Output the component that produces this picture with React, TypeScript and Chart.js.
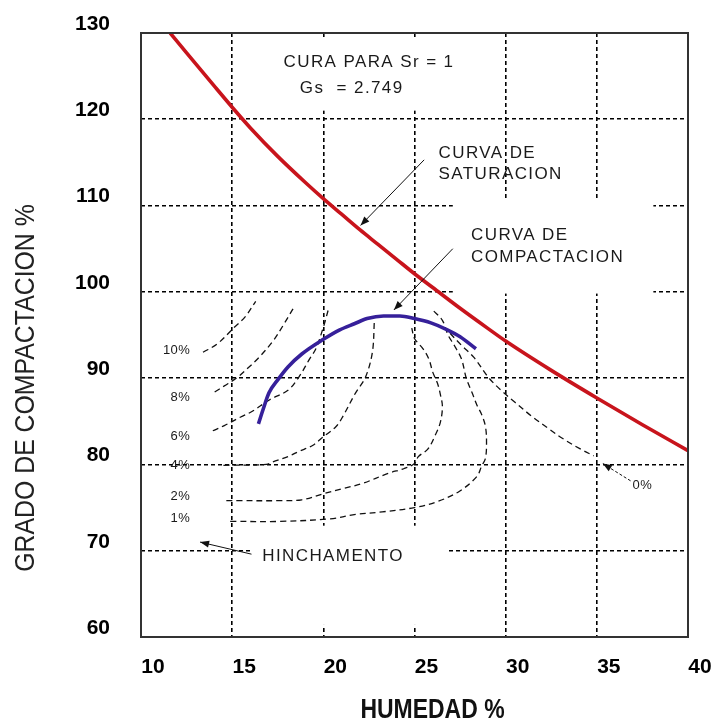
import { useEffect, useRef } from "react";
import { Chart, registerables } from "chart.js";

Chart.register(...registerables);

const FONT = '"Liberation Sans", Arial, Helvetica, sans-serif';

// Axis ticks
const humedadTicks = [10, 15, 20, 25, 30, 35, 40];
const gradoTicks = [60, 70, 80, 90, 100, 110, 120, 130];

// Curva de saturación (Sr = 1, Gs = 2.749)
const saturacionHumedad = [11.6, 12.5, 14.0, 15.0, 16.0, 17.5, 19.0, 20.0, 21.0, 22.0, 23.0, 24.0, 25.0, 26.0, 27.5, 29.0, 30.0, 32.5, 35.0, 37.5, 40.0];
const saturacionGrado = [130.0, 127.7, 123.9, 121.4, 119.0, 115.7, 112.7, 110.8, 109.0, 107.2, 105.5, 103.8, 102.1, 100.5, 98.1, 95.8, 94.3, 90.9, 87.7, 84.6, 81.6];

// Curva de compactación
const compactacionHumedad = [16.44, 16.7, 17.02, 17.5, 18.06, 18.82, 20.0, 20.9, 21.7, 22.4, 23.3, 24.2, 25.0, 25.9, 26.8, 27.5, 28.37];
const compactacionGrado = [84.7, 86.4, 88.3, 89.8, 91.3, 92.8, 94.5, 95.6, 96.3, 96.9, 97.2, 97.2, 96.9, 96.4, 95.6, 94.8, 93.4];

// Curvas de igual hinchamiento
const hinch10Humedad = [13.4, 14.2, 15.12, 15.71, 16.29];
const hinch10Grado = [93.0, 94.0, 95.9, 97.1, 98.9];

const hinch8Humedad = [14.04, 14.57, 15.29, 15.88, 16.47, 17.24, 17.82, 18.41];
const hinch8Grado = [88.4, 89.1, 90.1, 91.2, 92.4, 94.3, 96.2, 98.3];

const hinch6Humedad = [13.94, 14.57, 15.47, 16.06, 17.06, 18.06, 18.65, 19.24, 19.59, 20.0, 20.32];
const hinch6Grado = [83.9, 84.5, 85.5, 86.1, 87.5, 88.6, 90.1, 92.2, 93.4, 95.9, 98.3];

const hinch4Humedad = [14.52, 16.88, 17.24, 18.06, 18.65, 19.41, 20.0, 20.7, 21.08, 21.77, 22.31, 22.69, 22.8];
const hinch4Grado = [79.9, 80.0, 80.3, 80.9, 81.5, 82.2, 83.2, 84.4, 85.6, 88.3, 90.1, 93.0, 96.7];

const hinch2Humedad = [14.68, 15.29, 17.65, 18.82, 20.0, 21.08, 22.15, 23.6, 24.41, 25.0, 25.21, 25.74, 26.16, 26.42, 26.53, 26.42, 26.26, 26.0, 25.79, 25.47, 25.0, 24.85];
const hinch2Grado = [75.8, 75.8, 75.8, 75.9, 76.6, 77.2, 77.8, 79.0, 79.5, 80.1, 80.9, 81.8, 83.5, 84.9, 86.7, 88.1, 89.4, 90.7, 92.2, 93.4, 94.6, 95.8];

const hinch1Humedad = [14.89, 17.65, 20.38, 21.77, 23.23, 25.0, 26.26, 27.47, 28.42, 28.68, 28.89, 28.95, 28.89, 28.68, 28.42, 28.16, 27.84, 27.58, 27.21, 26.84, 26.53, 26.0];
const hinch1Grado = [73.4, 73.4, 73.7, 74.2, 74.5, 75.0, 75.7, 76.9, 78.6, 79.8, 80.7, 82.6, 84.4, 85.8, 86.9, 88.3, 90.0, 92.2, 93.7, 95.0, 96.7, 97.9];

const hinch0Humedad = [26.95, 27.58, 28.26, 29.05, 29.74, 30.51, 31.42, 32.39, 33.13, 34.09, 34.83];
const hinch0Grado = [95.2, 93.8, 92.4, 90.1, 88.6, 87.2, 85.6, 84.1, 83.0, 81.8, 81.0];

// Swell labels at the left ends of the contours
const hinchEtiquetas = ["10%", "8%", "6%", "4%", "2%", "1%"];
const hinchEtiquetaGrado = [93.2, 87.8, 83.3, 79.9, 76.3, 73.7];

const pts = (xs: number[], ys: number[]) => xs.map((x, i) => ({ x, y: ys[i] }));

type Txt = { text: string; x: number; y: number; align: CanvasTextAlign };

const notas: Txt[] = [
  { text: "CURA PARA Sr = 1", x: 17.82, y: 126.6, align: "left" },
  { text: "Gs  = 2.749", x: 18.71, y: 123.6, align: "left" },
  { text: "CURVA DE", x: 26.32, y: 116.0, align: "left" },
  { text: "SATURACION", x: 26.32, y: 113.6, align: "left" },
  { text: "CURVA DE", x: 28.1, y: 106.5, align: "left" },
  { text: "COMPACTACION", x: 28.1, y: 104.0, align: "left" },
  { text: "HINCHAMENTO", x: 16.65, y: 69.4, align: "left" },
];

// White panels behind the notes (x0, x1, y0, y1 in axis units)
const paneles = [
  [17.65, 27.47, 121.0, 129.4],
  [27.1, 38.1, 99.8, 110.6],
  [16.06, 26.84, 61.4, 72.9],
];

// Leader arrows (from -> to, axis units)
const flechas = [
  { from: [25.53, 115.3], to: [22.04, 107.7], dash: [] as number[] },
  { from: [27.1, 105.0], to: [23.87, 97.9], dash: [] as number[] },
  { from: [16.06, 69.6], to: [13.24, 71.0], dash: [] as number[] },
  { from: [36.85, 78.1], to: [35.33, 80.1], dash: [3, 2] },
];

function arrow(ctx: CanvasRenderingContext2D, x1: number, y1: number, x2: number, y2: number, dash: number[]) {
  ctx.setLineDash(dash);
  ctx.beginPath();
  ctx.moveTo(x1, y1);
  ctx.lineTo(x2, y2);
  ctx.stroke();
  ctx.setLineDash([]);
  const a = Math.atan2(y2 - y1, x2 - x1);
  const L = 9;
  const W = 3.5;
  ctx.beginPath();
  ctx.moveTo(x2, y2);
  ctx.lineTo(x2 - L * Math.cos(a) + W * Math.sin(a), y2 - L * Math.sin(a) - W * Math.cos(a));
  ctx.lineTo(x2 - L * Math.cos(a) - W * Math.sin(a), y2 - L * Math.sin(a) + W * Math.cos(a));
  ctx.closePath();
  ctx.fill();
}

const decoracion = {
  id: "decoracion",
  beforeDatasetsDraw(chart: any) {
    const { ctx, scales } = chart;
    const xs = scales.x;
    const ys = scales.y;
    ctx.save();
    ctx.fillStyle = "#fff";
    for (const [x0, x1, y0, y1] of paneles) {
      const l = xs.getPixelForValue(x0);
      const r = xs.getPixelForValue(x1);
      const t = ys.getPixelForValue(y1);
      const b = ys.getPixelForValue(y0);
      ctx.fillRect(l, t, r - l, b - t);
    }
    ctx.restore();
  },
  afterDatasetsDraw(chart: any) {
    const { ctx, scales, chartArea } = chart;
    const xs = scales.x;
    const ys = scales.y;
    ctx.save();
    // plot frame
    ctx.strokeStyle = "#333";
    ctx.lineWidth = 2;
    ctx.setLineDash([]);
    ctx.strokeRect(chartArea.left, chartArea.top, chartArea.right - chartArea.left, chartArea.bottom - chartArea.top);

    // notes
    ctx.fillStyle = "#1a1a1a";
    ctx.textBaseline = "middle";
    ctx.font = `17px ${FONT}`;
    (ctx as any).letterSpacing = "1.4px";
    for (const n of notas) {
      ctx.textAlign = n.align;
      ctx.fillText(n.text, xs.getPixelForValue(n.x), ys.getPixelForValue(n.y));
    }

    // swell labels
    ctx.font = `13px ${FONT}`;
    (ctx as any).letterSpacing = "0.5px";
    ctx.textAlign = "right";
    hinchEtiquetas.forEach((t, i) => {
      ctx.fillText(t, xs.getPixelForValue(12.71), ys.getPixelForValue(hinchEtiquetaGrado[i]));
    });
    ctx.textAlign = "left";
    ctx.fillText("0%", xs.getPixelForValue(36.96), ys.getPixelForValue(77.6));
    (ctx as any).letterSpacing = "0px";

    // arrows
    ctx.strokeStyle = "#111";
    ctx.fillStyle = "#111";
    ctx.lineWidth = 1;
    for (const f of flechas) {
      arrow(
        ctx,
        xs.getPixelForValue(f.from[0]),
        ys.getPixelForValue(f.from[1]),
        xs.getPixelForValue(f.to[0]),
        ys.getPixelForValue(f.to[1]),
        f.dash
      );
    }
    ctx.restore();
  },
  afterDraw(chart: any) {
    const { ctx, chartArea } = chart;
    ctx.save();
    ctx.fillStyle = "#222";
    ctx.textAlign = "center";
    ctx.textBaseline = "middle";

    // y-axis title
    ctx.save();
    ctx.translate(chartArea.left - 114, 380);
    ctx.rotate(-Math.PI / 2);
    ctx.scale(0.92, 1);
    ctx.font = `27px ${FONT}`;
    ctx.fillText("GRADO DE COMPACTACION %", 0, 0);
    ctx.restore();

    // x-axis title
    ctx.save();
    ctx.translate((chartArea.left + chartArea.right) / 2 + 18, chartArea.bottom + 73);
    ctx.scale(0.82, 1);
    ctx.fillStyle = "#111";
    ctx.font = `bold 28px ${FONT}`;
    ctx.fillText("HUMEDAD %", 0, 0);
    ctx.restore();

    ctx.restore();
  },
};

const contornos = [
  pts(hinch10Humedad, hinch10Grado),
  pts(hinch8Humedad, hinch8Grado),
  pts(hinch6Humedad, hinch6Grado),
  pts(hinch4Humedad, hinch4Grado),
  pts(hinch2Humedad, hinch2Grado),
  pts(hinch1Humedad, hinch1Grado),
  pts(hinch0Humedad, hinch0Grado),
];

export default function App() {
  const ref = useRef<HTMLCanvasElement>(null);

  useEffect(() => {
    const tickFont = { family: FONT, size: 21, weight: "bold" as const };
    const chart = new Chart(ref.current!, {
      type: "line",
      data: {
        datasets: [
          {
            label: "Curva de saturación",
            data: pts(saturacionHumedad, saturacionGrado),
            borderColor: "#c8141c",
            borderWidth: 3.6,
            pointRadius: 0,
            cubicInterpolationMode: "monotone",
            fill: false,
          },
          {
            label: "Curva de compactación",
            data: pts(compactacionHumedad, compactacionGrado),
            borderColor: "#36209a",
            borderWidth: 3.6,
            pointRadius: 0,
            cubicInterpolationMode: "monotone",
            fill: false,
          },
          ...contornos.map((d, i) => ({
            label: `Hinchamiento ${i}`,
            data: d,
            borderColor: "#111",
            borderWidth: 1.3,
            borderDash: [6, 4],
            pointRadius: 0,
            tension: 0.35,
            fill: false,
          })),
        ],
      },
      options: {
        responsive: false,
        animation: false,
        parsing: true,
        layout: { padding: { left: 0, top: 25, right: 28, bottom: 0 } },
        plugins: {
          legend: { display: false },
          tooltip: { enabled: false },
        },
        scales: {
          x: {
            type: "linear",
            min: 10,
            max: 40,
            afterBuildTicks: (s: any) => {
              s.ticks = humedadTicks.map((v) => ({ value: v }));
            },
            afterFit: (s: any) => {
              s.height = 83;
              s.paddingLeft = 0;
              s.paddingRight = 0;
            },
            ticks: { font: tickFont, color: "#000", padding: 18, labelOffset: 12 },
            grid: { color: "#000", lineWidth: 1.6, drawTicks: false },
            border: { display: false, dash: [4, 3] },
          },
          y: {
            type: "linear",
            min: 60,
            max: 130,
            afterBuildTicks: (s: any) => {
              s.ticks = gradoTicks.map((v) => ({ value: v }));
            },
            afterFit: (s: any) => {
              s.width = 133;
              s.paddingTop = 0;
              s.paddingBottom = 0;
            },
            ticks: { font: tickFont, color: "#000", padding: 31, labelOffset: -9 },
            grid: { color: "#000", lineWidth: 1.6, drawTicks: false },
            border: { display: false, dash: [4, 3] },
          },
        },
      },
      plugins: [decoracion],
    });
    return () => chart.destroy();
  }, []);

  return <canvas ref={ref} width={708} height={712} style={{ display: "block" }} />;
}
